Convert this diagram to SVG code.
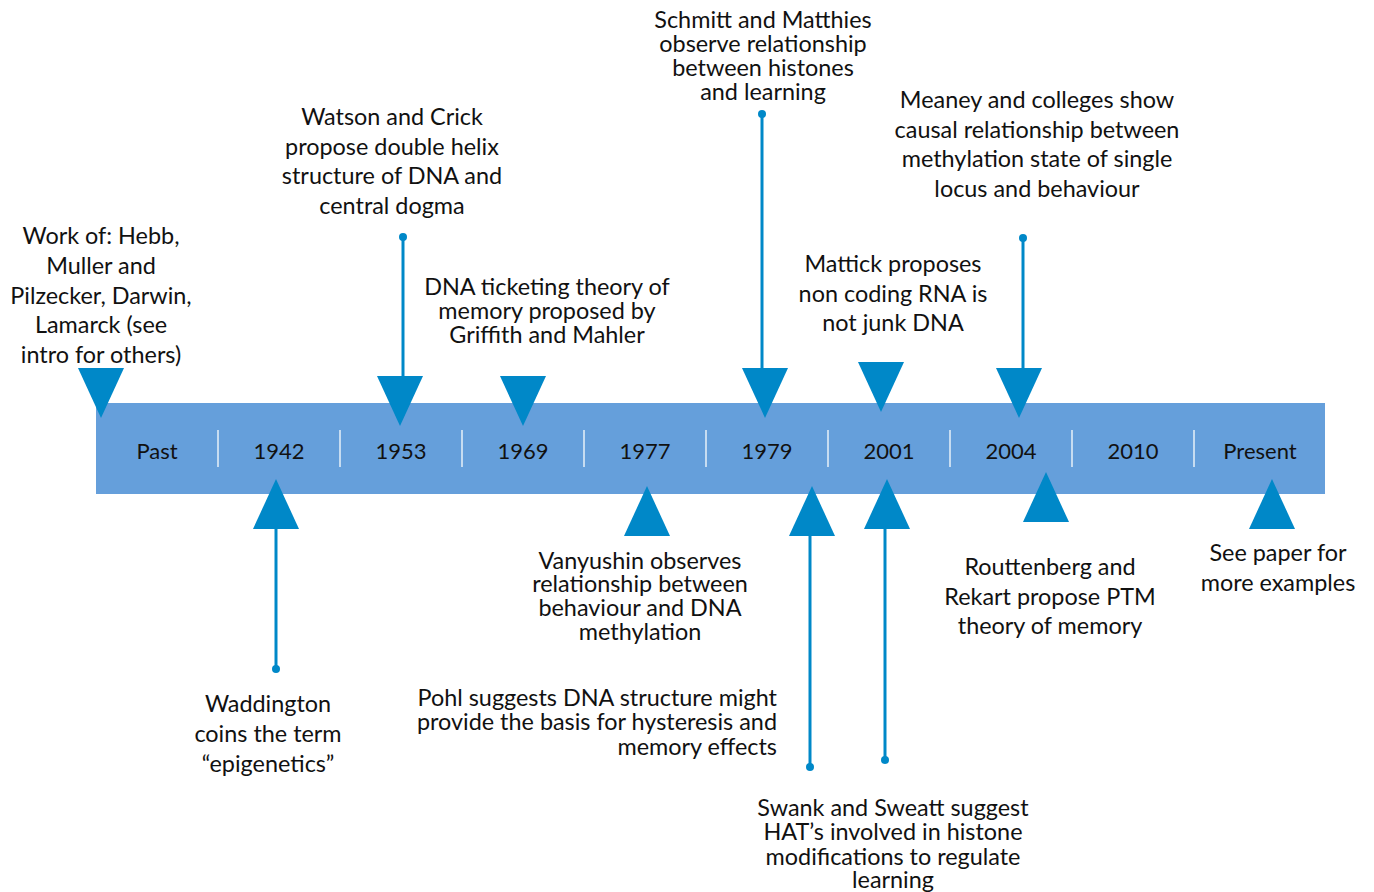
<svg xmlns="http://www.w3.org/2000/svg" width="1374" height="892" viewBox="0 0 1374 892">
<defs>
<style>
text{font-family:Lato,"Open Sans","Liberation Sans",sans-serif;font-size:23.4px;fill:#111;text-anchor:middle}
.yr{font-size:22px}
.end{text-anchor:end}
.sep{stroke:#ffffff;stroke-width:1.5;opacity:0.85}
.tri{fill:#0088c8}
.stem{stroke:#0088c8;stroke-width:3;fill:none}
.dot{fill:#0088c8}
</style>
</defs>
<rect width="1374" height="892" fill="#ffffff"/>
<g id="timeline">
<rect x="96" y="403" width="1229" height="91" fill="#659fdb"/>
<line class="sep" x1="218" y1="430" x2="218" y2="467"/>
<line class="sep" x1="340" y1="430" x2="340" y2="467"/>
<line class="sep" x1="462" y1="430" x2="462" y2="467"/>
<line class="sep" x1="584" y1="430" x2="584" y2="467"/>
<line class="sep" x1="706" y1="430" x2="706" y2="467"/>
<line class="sep" x1="828" y1="430" x2="828" y2="467"/>
<line class="sep" x1="950" y1="430" x2="950" y2="467"/>
<line class="sep" x1="1072" y1="430" x2="1072" y2="467"/>
<line class="sep" x1="1194" y1="430" x2="1194" y2="467"/>
<text class="yr" x="157" y="459">Past</text>
<text class="yr" x="279" y="459">1942</text>
<text class="yr" x="401" y="459">1953</text>
<text class="yr" x="523" y="459">1969</text>
<text class="yr" x="645" y="459">1977</text>
<text class="yr" x="767" y="459">1979</text>
<text class="yr" x="889" y="459">2001</text>
<text class="yr" x="1011" y="459">2004</text>
<text class="yr" x="1133" y="459">2010</text>
<text class="yr" x="1260" y="459">Present</text>
</g>
<g id="connectors">
<line class="stem" x1="403" y1="237" x2="403" y2="378"/>
<circle class="dot" cx="403" cy="237" r="4"/>
<line class="stem" x1="762" y1="114" x2="762" y2="370"/>
<circle class="dot" cx="762" cy="114" r="4"/>
<line class="stem" x1="1023" y1="238" x2="1023" y2="370"/>
<circle class="dot" cx="1023" cy="238" r="4"/>
<line class="stem" x1="276" y1="527" x2="276" y2="669"/>
<circle class="dot" cx="276" cy="669" r="4"/>
<line class="stem" x1="810" y1="534" x2="810" y2="767"/>
<circle class="dot" cx="810" cy="767" r="4"/>
<line class="stem" x1="885" y1="527" x2="885" y2="760"/>
<circle class="dot" cx="885" cy="760" r="4"/>
</g>
<g id="past">
<polygon class="tri" points="78,368 124,368 101,418"/>
<text x="101" y="244"><tspan x="101">Work of: Hebb,</tspan><tspan x="101" dy="30">Muller and</tspan><tspan x="101" dy="30">Pilzecker, Darwin,</tspan><tspan x="101" dy="29">Lamarck (see</tspan><tspan x="101" dy="30">intro for others)</tspan></text>
</g>
<g id="waddington">
<polygon class="tri" points="253,529 299,529 276,479"/>
<text x="268" y="712"><tspan x="268">Waddington</tspan><tspan x="268" dy="30">coins the term</tspan><tspan x="268" dy="30">“epigenetics”</tspan></text>
</g>
<g id="watson">
<polygon class="tri" points="377,376 423,376 400,426"/>
<text x="392" y="125"><tspan x="392">Watson and Crick</tspan><tspan x="392" dy="30">propose double helix</tspan><tspan x="392" dy="29">structure of DNA and</tspan><tspan x="392" dy="30">central dogma</tspan></text>
</g>
<g id="griffith">
<polygon class="tri" points="500,376 546,376 523,426"/>
<text x="547" y="295"><tspan x="547">DNA ticketing theory of</tspan><tspan x="547" dy="24">memory proposed by</tspan><tspan x="547" dy="24">Griffith and Mahler</tspan></text>
</g>
<g id="vanyushin">
<polygon class="tri" points="624,536 670,536 647,486"/>
<text x="640" y="569"><tspan x="640">Vanyushin observes</tspan><tspan x="640" dy="23">relationship between</tspan><tspan x="640" dy="24">behaviour and DNA</tspan><tspan x="640" dy="24">methylation</tspan></text>
</g>
<g id="schmitt">
<polygon class="tri" points="742,368 788,368 765,418"/>
<text x="763" y="28"><tspan x="763">Schmitt and Matthies</tspan><tspan x="763" dy="24">observe relationship</tspan><tspan x="763" dy="24">between histones</tspan><tspan x="763" dy="24">and learning</tspan></text>
</g>
<g id="pohl">
<polygon class="tri" points="789,536 835,536 812,486"/>
<text class="end" x="777" y="706"><tspan x="777">Pohl suggests DNA structure might</tspan><tspan x="777" dy="24">provide the basis for hysteresis and</tspan><tspan x="777" dy="25">memory effects</tspan></text>
</g>
<g id="mattick">
<polygon class="tri" points="858,362 904,362 881,412"/>
<text x="893" y="272"><tspan x="893">Mattick proposes</tspan><tspan x="893" dy="30">non coding RNA is</tspan><tspan x="893" dy="29">not junk DNA</tspan></text>
</g>
<g id="swank">
<polygon class="tri" points="864,529 910,529 887,479"/>
<text x="893" y="816"><tspan x="893">Swank and Sweatt suggest</tspan><tspan x="893" dy="24">HAT’s involved in histone</tspan><tspan x="893" dy="25">modifications to regulate</tspan><tspan x="893" dy="23">learning</tspan></text>
</g>
<g id="meaney">
<polygon class="tri" points="996,368 1042,368 1019,418"/>
<text x="1037" y="108"><tspan x="1037">Meaney and colleges show</tspan><tspan x="1037" dy="30">causal relationship between</tspan><tspan x="1037" dy="29">methylation state of single</tspan><tspan x="1037" dy="30">locus and behaviour</tspan></text>
</g>
<g id="routtenberg">
<polygon class="tri" points="1023,522 1069,522 1046,472"/>
<text x="1050" y="575"><tspan x="1050">Routtenberg and</tspan><tspan x="1050" dy="30">Rekart propose PTM</tspan><tspan x="1050" dy="29">theory of memory</tspan></text>
</g>
<g id="present">
<polygon class="tri" points="1249,529 1295,529 1272,479"/>
<text x="1278" y="561"><tspan x="1278">See paper for</tspan><tspan x="1278" dy="30">more examples</tspan></text>
</g>
</svg>
